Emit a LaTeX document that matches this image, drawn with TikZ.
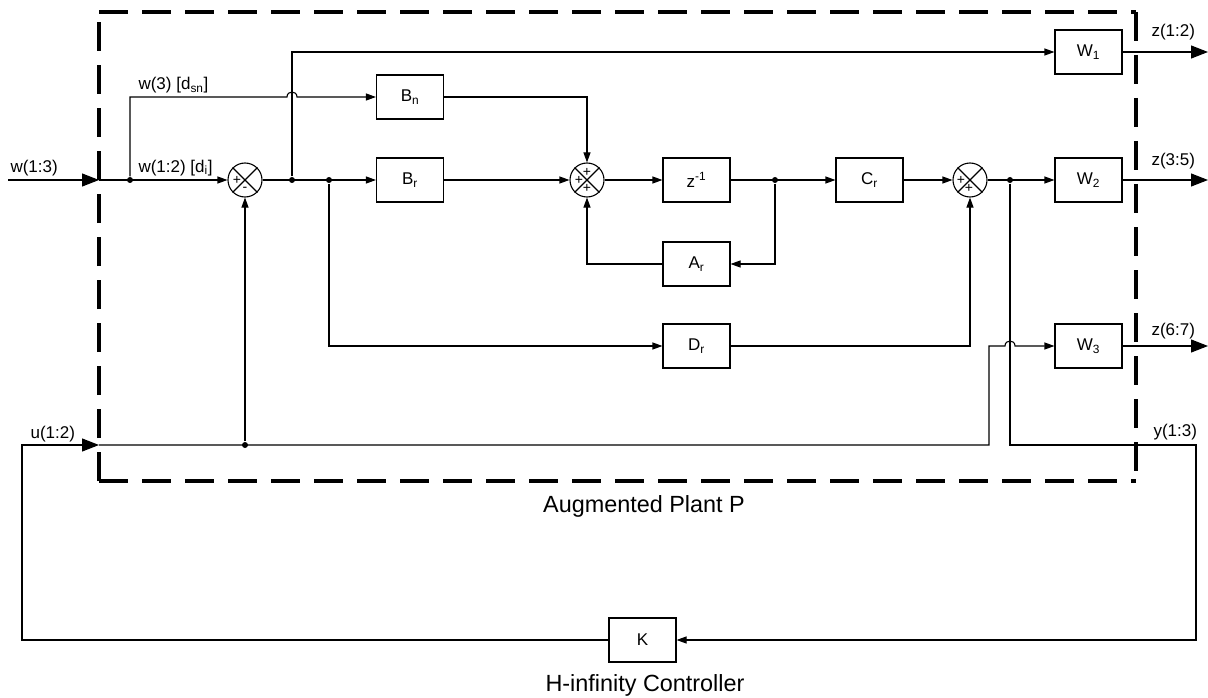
\documentclass[tikz,border=0pt]{standalone}
\usepackage{fontspec}
\setmainfont{Liberation Sans}
\usetikzlibrary{arrows.meta}
\begin{document}
\begin{tikzpicture}[x=1pt,y=-1pt,
  line width=1.1pt,
  blk/.style={draw,minimum width=67pt,minimum height=44pt,inner sep=0pt,font=\fontsize{17}{20}\selectfont},
  sumnode/.style={draw,circle,minimum size=34pt,inner sep=0pt},
  arr/.style={-{Triangle[length=10pt,width=7pt]}},
  bigarr/.style={-{Triangle[length=17pt,width=13pt]}},
  lbl/.style={font=\fontsize{17}{20}\selectfont,anchor=base west,inner sep=0pt},
  sgn/.style={font=\fontsize{14}{14}\selectfont,inner sep=0pt},
  dot/.style={circle,fill,inner sep=0pt,minimum size=6pt},
  plant/.style={line width=3.5pt,dash pattern=on 29pt off 14pt},
  ttl/.style={font=\fontsize{23.4}{26}\selectfont,anchor=base,inner sep=0pt},
]
\useasboundingbox (0,0) rectangle (1208,698);

% plant boundary
\draw[plant] (99,12) -- (1136,12);
\draw[plant] (1136,12) -- (1136,481);
\draw[plant] (99,481) -- (1136,481);
\draw[plant] (99,481) -- (99,12);

% blocks
\node[blk] (Bn) at (410,97) {B\textsubscript{n}};
\node[blk] (Br) at (410,180) {B\textsubscript{r}};
\node[blk] (Z) at (696.5,180) {z\textsuperscript{-1}};
\node[blk] (Ar) at (696.5,264) {A\textsubscript{r}};
\node[blk] (Dr) at (696.5,346) {D\textsubscript{r}};
\node[blk] (Cr) at (869.5,180) {C\textsubscript{r}};
\node[blk] (W1) at (1088.5,52) {W\textsubscript{1}};
\node[blk] (W2) at (1088.5,180) {W\textsubscript{2}};
\node[blk] (W3) at (1088.5,346) {W\textsubscript{3}};
\node[blk] (K) at (642.5,640) {K};

% summing junctions
\foreach \n/\x in {s1/245,s2/587,s3/970}{
  \node[sumnode] (\n) at (\x,180) {};
  \draw (\n.north east) -- (\n.south west) (\n.north west) -- (\n.south east);
}
\path (s1) ++(-8,0) node[sgn] {+};
\path (s1) ++(0,9) node[sgn] {-};
\path (s2) ++(0,-8) node[sgn] {+};
\path (s2) ++(-8,0) node[sgn] {+};
\path (s2) ++(0,8) node[sgn] {+};
\path (s3) ++(-9,0) node[sgn] {+};
\path (s3) ++(-1,8) node[sgn] {+};

% dots and coordinates
\node[dot] (d1) at (130,180) {};
\node[dot] (d2) at (292,180) {};
\node[dot] (d3) at (329,180) {};
\node[dot] (d4) at (775,180) {};
\node[dot] (d5) at (1010,180) {};
\node[dot] (d6) at (245,445) {};
\coordinate (win) at (8,180);
\coordinate (wedge) at (99,180);
\coordinate (uedge) at (99,445);
\coordinate (z1) at (1208,52);
\coordinate (z2) at (1208,180);
\coordinate (z3) at (1208,346);

% input w
\draw[bigarr] (win) -- (wedge);
\draw[arr] (wedge) -- (s1.west);
\draw[arr] (d1) |- (287,97) .. controls (287,90.3) and (297,90.3) .. (297,97) -- (Bn.west);
\draw[arr] (s1.east) -- (Br.west);
\draw[arr] (d2) |- (W1.west);
\draw[arr] (d3) |- (Dr.west);
\draw[arr] (Br.east) -- (s2.west);
\draw[arr] (Bn.east) -| (s2.north);
\draw[arr] (s2.east) -- (Z.west);
\draw[arr] (Z.east) -- (Cr.west);
\draw[arr] (d4) |- (Ar.east);
\draw[arr] (Ar.west) -| (s2.south);
\draw[arr] (Cr.east) -- (s3.west);
\draw[arr] (Dr.east) -| (s3.south);
\draw[arr] (s3.east) -- (W2.west);

% outputs
\draw[bigarr] (W1.east) -- (z1);
\draw[bigarr] (W2.east) -- (z2);
\draw[bigarr] (W3.east) -- (z3);

% measurement and control loop
\draw[arr] (d5) -- (1010,445) -- (1196,445) |- (K.east);
\draw[bigarr] (K.west) -| (22,445) -- (uedge);
\draw[arr] (uedge) -- (989,445) -- (989,346) -- (1005,346) .. controls (1005,339.3) and (1015,339.3) .. (1015,346) -- (W3.west);
\draw[arr] (d6) -- (s1.south);

% labels
\node[lbl] at (10,172) {w(1:3)};
\node[lbl] at (138,90) {w(3) [d\textsubscript{sn}]};
\node[lbl] at (138,172) {w(1:2) [d\textsubscript{i}]};
\node[lbl] at (30,438) {u(1:2)};
\node[lbl] at (1153,436) {y(1:3)};
\node[lbl] at (1151,37) {z(1:2)};
\node[lbl] at (1151,166) {z(3:5)};
\node[lbl] at (1151,335) {z(6:7)};
\node[ttl] at (644,512) {Augmented Plant P};
\node[ttl] at (645,691) {H-infinity Controller};
\end{tikzpicture}
\end{document}
